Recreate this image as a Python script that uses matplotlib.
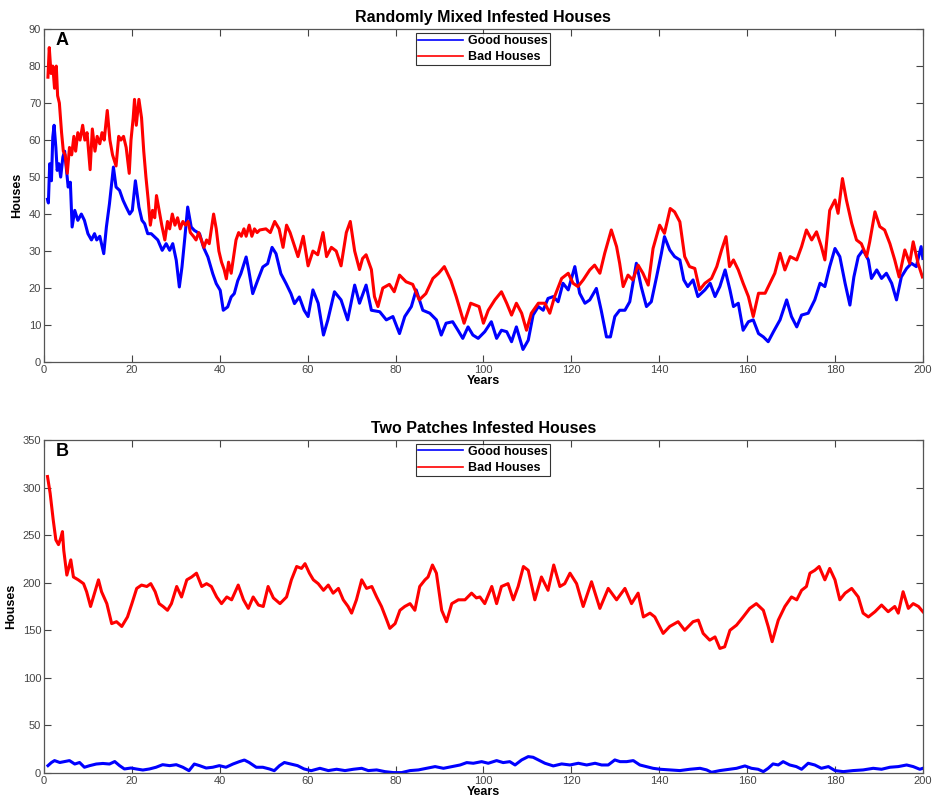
import matplotlib
matplotlib.use("Agg")
import matplotlib.pyplot as plt

plt.rcParams['font.family'] = ['Liberation Sans', 'DejaVu Sans']

# (year, houses) readings for the randomly mixed simulation
a_good = [(0.8, 44), (1.0, 43), (1.3, 53.6), (1.7, 49), (2.0, 60.8), (2.3, 64), (2.7, 58), (3.0, 51.8),
          (3.4, 53.6), (3.8, 50), (4.3, 55.4), (4.7, 57), (5.1, 52), (5.5, 47.3), (6.0, 48.6), (6.4, 36.5),
          (7.0, 41), (7.7, 38.3), (8.5, 40), (9.2, 38.3), (10.0, 34.7), (10.8, 33), (11.5, 34.7), (12.0, 33),
          (12.7, 34), (13.6, 29.3), (14.2, 36.5), (14.9, 42.8), (15.8, 52.7), (16.4, 47.3), (17.2, 46.4),
          (18.0, 43.7), (18.7, 41.9), (19.5, 40), (20.1, 41), (20.8, 49), (21.6, 41.9), (22.3, 38.3),
          (22.9, 37.4), (23.6, 34.7), (24.4, 34.7), (25.2, 33.8), (25.9, 33), (26.9, 30.2), (27.8, 32),
          (28.6, 30.2), (29.3, 32), (30.1, 27.5), (30.8, 20.3), (31.4, 25.7), (32.0, 33), (32.7, 41.9),
          (33.5, 36.5), (34.2, 35.6), (35.4, 34.7), (36.3, 31), (37.3, 28.4), (38.4, 23.9), (39.2, 21.2),
          (40.1, 19.4), (40.8, 14), (41.8, 14.9), (42.6, 17.6), (43.3, 18.5), (44.1, 22), (44.8, 23.9),
          (46.0, 28.4), (46.6, 24.8), (47.5, 18.5), (48.6, 22), (49.8, 25.7), (50.9, 26.6), (51.9, 31),
          (52.8, 29.3), (53.9, 23.9), (55.1, 21.2), (56.2, 18.5), (57.0, 15.8), (58.1, 17.6), (59.2, 14),
          (60.1, 12.3), (61.2, 19.5), (62.4, 15.9), (63.6, 7.3), (64.6, 11.4), (66.1, 19), (67.6, 16.8),
          (69.1, 11.4), (70.7, 20.8), (71.8, 15.9), (73.3, 20.8), (74.5, 14), (76.4, 13.6), (77.9, 11.4),
          (79.4, 12.3), (80.9, 7.7), (82.1, 12.3), (83.6, 15), (84.7, 19.5), (86.2, 14), (87.8, 13.2),
          (89.3, 11.4), (90.4, 7.3), (91.5, 10.5), (93.0, 10.9), (94.2, 8.6), (95.3, 6.4), (96.5, 9.5),
          (97.6, 7.3), (98.8, 6.4), (100.3, 8.2), (101.8, 10.9), (103.0, 6.4), (104.1, 8.6), (105.3, 8.2),
          (106.4, 5.5), (107.5, 9.5), (109.0, 3.4), (110.2, 5.9), (111.3, 12.7), (112.5, 15), (113.6, 14),
          (114.7, 17.2), (115.9, 17.7), (117.0, 16.3), (118.1, 21.3), (119.3, 19.5), (120.8, 25.8),
          (121.9, 18.6), (123.1, 15.9), (124.2, 16.8), (125.7, 19.9), (126.8, 14), (128.0, 6.8), (128.9, 6.8),
          (129.9, 12.3), (131.0, 14), (132.2, 14), (133.3, 16.3), (134.8, 26.7), (135.9, 20.4), (137.1, 15),
          (138.2, 16.3), (139.4, 23), (140.5, 29.4), (141.2, 33.9), (142.4, 30.3), (143.5, 28.5),
          (144.7, 27.6), (145.6, 22.2), (146.5, 20.4), (147.7, 22.2), (148.8, 17.7), (150.4, 19.5),
          (151.6, 21.3), (152.7, 17.7), (153.8, 20.4), (155.0, 24.9), (156.1, 19.5), (156.9, 15), (158.0, 15.9),
          (159.1, 8.6), (160.3, 10.9), (161.4, 11.4), (162.6, 7.7), (163.7, 6.8), (164.8, 5.5), (166.0, 8.2),
          (167.5, 11.4), (169.0, 16.8), (170.1, 12.3), (171.3, 9.5), (172.4, 12.7), (173.9, 13.2),
          (175.4, 16.8), (176.6, 21.3), (177.7, 20.4), (178.8, 25.8), (180.0, 30.7), (181.1, 28.5),
          (182.3, 21.3), (183.4, 15.4), (184.3, 23), (185.3, 28.5), (186.4, 30.3), (187.6, 27.6), (188.3, 22.6),
          (189.5, 24.9), (190.6, 22.6), (191.7, 24), (192.9, 21.3), (194.0, 16.8), (195.1, 23), (196.3, 25.3),
          (197.4, 26.7), (198.5, 25.8), (199.6, 31.2), (200, 28)]

a_bad = [(0.9, 77), (1.2, 85), (1.6, 78), (2.0, 80), (2.4, 74), (2.8, 80), (3.1, 72), (3.5, 70), (4.0, 62),
         (4.4, 57), (4.8, 56), (5.3, 51), (5.8, 58), (6.3, 56), (6.8, 61), (7.2, 57), (7.7, 62), (8.2, 60),
         (8.8, 64), (9.3, 60), (9.8, 62), (10.5, 52), (11.0, 63), (11.6, 57), (12.1, 61), (12.7, 59),
         (13.2, 62), (13.7, 60), (14.4, 68), (15.0, 60), (15.6, 56), (16.4, 53), (17.0, 61), (17.5, 60),
         (18.1, 61), (18.7, 58), (19.4, 51), (19.8, 60), (20.3, 66), (20.6, 71), (21.0, 64), (21.6, 71),
         (22.2, 66), (22.7, 57), (23.2, 50), (23.7, 44), (24.2, 37), (24.7, 41), (25.2, 39), (25.6, 45),
         (26.2, 41), (26.8, 37), (27.5, 33), (28.1, 38), (28.6, 36), (29.2, 40), (29.8, 37), (30.4, 39),
         (31.0, 36), (31.6, 38), (32.2, 37), (32.8, 38), (33.3, 35), (34.0, 34), (34.6, 33), (35.2, 35),
         (35.8, 33), (36.4, 31), (37.0, 33), (37.6, 32), (38.1, 36), (38.6, 40), (39.2, 36), (39.8, 30),
         (40.4, 27), (41.0, 25), (41.5, 22.5), (42.0, 27), (42.6, 24), (43.2, 29), (43.7, 33), (44.3, 35),
         (44.9, 34), (45.5, 36), (46.0, 34), (46.7, 37), (47.3, 34), (47.9, 36), (48.5, 35), (49.1, 35.7),
         (50.5, 36), (51.5, 35), (52.5, 38), (53.5, 36), (54.4, 31), (55.2, 37), (56.0, 35), (56.7, 32.5),
         (57.8, 28.5), (59.0, 34), (60.1, 26), (61.2, 30), (62.3, 29), (63.5, 35), (64.3, 28.5), (65.4, 31),
         (66.5, 30), (67.6, 26), (68.8, 35), (69.7, 38), (70.7, 30), (71.8, 25), (72.5, 28), (73.3, 29),
         (74.5, 25), (75.2, 17.7), (76.0, 15), (77.1, 20), (78.6, 21), (79.7, 19), (80.9, 23.5), (82.4, 21.7),
         (83.9, 21), (85.4, 16.8), (86.9, 18.5), (88.5, 22.6), (89.8, 24), (91.1, 25.8), (92.6, 22),
         (93.8, 17.7), (95.6, 10.5), (97.1, 15.9), (99.0, 15), (100.0, 10.5), (101.1, 14), (102.6, 16.8),
         (104.1, 19), (105.3, 15.9), (106.4, 12.7), (107.5, 15.9), (108.7, 13.2), (109.8, 8.6), (110.9, 13.2),
         (112.5, 15.9), (114.0, 15.9), (115.1, 13.2), (116.2, 17.7), (117.8, 22.6), (119.3, 24), (120.4, 21.3),
         (121.5, 20.4), (122.7, 22.2), (124.2, 24.9), (125.3, 26.2), (126.5, 24), (127.6, 29.4), (129.1, 35.7),
         (130.3, 31.2), (131.0, 26.7), (131.8, 20.4), (132.9, 23.5), (134.0, 22.2), (135.2, 26.2), (136.3, 24),
         (137.5, 20.8), (138.6, 30.7), (140.1, 37), (141.2, 34.8), (142.5, 41.5), (143.5, 40.6), (144.7, 37.9),
         (145.8, 28.5), (146.9, 25.8), (148.1, 25.3), (149.2, 19.5), (150.4, 21.3), (151.9, 22.6),
         (153.1, 25.8), (154.2, 30.3), (155.2, 33.9), (156.0, 25.8), (156.9, 27.6), (158.0, 24.9),
         (159.1, 21.3), (160.3, 17.7), (161.4, 12.3), (162.6, 18.6), (164.1, 18.6), (165.2, 21.3), (166.3, 24),
         (167.5, 29.4), (168.6, 24.9), (169.8, 28.5), (171.3, 27.6), (172.4, 31.2), (173.5, 35.7), (174.7, 33),
         (175.8, 35.2), (176.9, 31.2), (177.7, 27.6), (178.8, 41), (180.0, 43.8), (180.7, 40.2), (181.7, 49.6),
         (182.6, 43.8), (183.8, 37.5), (184.9, 33), (186.0, 32), (187.2, 28.5), (187.9, 32.5), (189.1, 40.6),
         (190.2, 36.6), (191.3, 35.7), (192.5, 32), (193.6, 27.6), (194.6, 23), (195.9, 30.3), (197.0, 26.7),
         (197.8, 32.5), (198.9, 26.7), (199.9, 23)]

# (year, houses) readings for the two-patch simulation
b_good = [(0.9, 7.7), (1.7, 11), (2.4, 13), (3.6, 11), (4.7, 12), (5.8, 13), (7.0, 9.4), (8.1, 11), (9.2, 6),
          (10.4, 7.7), (11.9, 9.4), (13.4, 10), (14.9, 9.4), (16.1, 12), (17.2, 7.7), (18.3, 4.2), (19.8, 5.2),
          (21.0, 4.2), (22.5, 3.1), (24.0, 4.2), (25.5, 6), (27.0, 8.7), (28.6, 7.7), (30.1, 8.7), (31.6, 6),
          (33.0, 2.4), (34.2, 9.4), (35.4, 7.7), (36.9, 5.2), (38.4, 6), (39.9, 7.7), (41.4, 6), (43.0, 9.4),
          (44.5, 12), (45.6, 13.6), (46.7, 11), (48.3, 6), (49.8, 6), (51.3, 4.2), (52.4, 2.4), (53.6, 7.7),
          (54.7, 11), (56.2, 9.4), (57.7, 7.7), (59.2, 4.2), (60.8, 2.4), (62.3, 4.2), (62.8, 4.9), (64.7, 2.5),
          (66.6, 3.9), (68.5, 2.5), (70.4, 3.9), (72.3, 4.9), (73.8, 2.5), (75.7, 3.2), (77.6, 1.4), (79.5, 0.4),
          (81.4, 0.4), (83.3, 2.5), (85.2, 3.2), (87.1, 4.9), (89.0, 6.7), (90.9, 4.9), (92.8, 6.7), (94.7, 8.4),
          (96.2, 10.9), (97.7, 10.2), (99.6, 11.9), (101.1, 10.2), (103.0, 13), (104.5, 10.9), (106.0, 11.9),
          (107.2, 8.4), (108.7, 13.7), (110.2, 17.2), (111.3, 16.5), (112.5, 13.7), (114.0, 10.2), (115.9, 7.4),
          (117.8, 9.5), (119.7, 8.4), (121.6, 10.2), (123.5, 8.4), (125.4, 10.2), (126.9, 8.4), (128.4, 8.4),
          (129.9, 13.7), (131.1, 11.9), (132.6, 11.9), (134.1, 13), (135.6, 8.4), (137.1, 6.7), (138.6, 4.9),
          (140.2, 3.9), (142.4, 3.2), (144.7, 2.5), (147.0, 3.9), (149.3, 4.9), (150.8, 3.2), (151.9, 0.7),
          (153.8, 2.5), (156.1, 3.9), (157.6, 4.9), (159.5, 7.4), (161.0, 4.9), (162.5, 3.9), (163.7, 1.4),
          (164.8, 4.9), (165.9, 9.5), (167.1, 8.4), (168.2, 11.9), (169.7, 8.4), (171.2, 6.7), (172.4, 3.9),
          (173.9, 10.2), (175.4, 8.4), (176.9, 4.9), (178.5, 6.7), (180.0, 2.5), (181.9, 1.4), (184.1, 2.5),
          (186.4, 3.2), (188.7, 4.9), (190.6, 3.9), (192.5, 6), (194.4, 6.7), (196.3, 8.4), (197.8, 6.7),
          (199.3, 3.9), (200.0, 4.9)]

b_bad = [(0.8, 311.6), (1.4, 294), (2.1, 266), (2.7, 245), (3.3, 240), (3.8, 246.7), (4.2, 253.7), (4.5, 234),
         (5.2, 208), (6.1, 224), (6.7, 206), (7.8, 203), (9.0, 199), (9.7, 190.5), (10.6, 175), (11.6, 190.5),
         (12.4, 203), (13.1, 190.5), (14.3, 178), (15.4, 157), (16.5, 159), (17.7, 154), (19.0, 164), (20.0, 178),
         (21.1, 194), (22.2, 197.5), (23.4, 196), (24.3, 199), (25.3, 190.5), (26.2, 178), (27.1, 175),
         (28.1, 171), (29.0, 178), (30.2, 196), (31.3, 185), (32.5, 203), (33.6, 206), (34.7, 210), (35.9, 196),
         (37.0, 199), (38.1, 196), (39.3, 185), (40.4, 178), (41.6, 185), (42.7, 182), (44.2, 197.5),
         (45.4, 182), (46.5, 173), (47.6, 185), (48.8, 176.5), (49.9, 175), (51.0, 196), (52.2, 184),
         (53.7, 178), (55.2, 185), (56.3, 203), (57.5, 217), (58.6, 215), (59.4, 220), (60.4, 210), (61.3, 203),
         (62.4, 199), (63.6, 192), (64.7, 197.5), (65.8, 189), (67.0, 194), (68.1, 182), (69.2, 175), (70.0, 168),
         (71.1, 182), (72.3, 203), (73.4, 194), (74.6, 196), (75.7, 185), (76.8, 175), (78.0, 160.7),
         (78.7, 152), (79.9, 157), (81.0, 171), (82.1, 175), (83.3, 178), (84.4, 171), (85.5, 196), (86.7, 203),
         (87.4, 206), (88.4, 218.6), (89.3, 210), (90.5, 171), (91.6, 159), (92.8, 178), (94.3, 182),
         (95.8, 182), (97.3, 189), (98.4, 184), (99.2, 185), (100.3, 178), (101.9, 196), (103.0, 178),
         (104.1, 196), (105.6, 199), (106.8, 182), (107.9, 196), (109.1, 217), (110.2, 213), (111.7, 182),
         (113.2, 206), (114.7, 192), (116.0, 218.6), (117.4, 196), (118.5, 199), (119.7, 210), (121.2, 199),
         (122.7, 175), (124.6, 201), (126.5, 173), (128.4, 194), (130.3, 182), (132.2, 194), (133.7, 178),
         (135.2, 189), (136.4, 164), (137.9, 168), (139.0, 164), (140.9, 146.7), (142.4, 154), (144.3, 159),
         (145.8, 150), (147.7, 159), (148.9, 160.7), (150.0, 146.7), (151.5, 139.6), (152.7, 143),
         (153.8, 130.9), (154.9, 132.6), (156.1, 150), (157.6, 155.4), (159.1, 164), (160.6, 173), (162.1, 178),
         (163.7, 171), (164.8, 154), (165.7, 138), (167.1, 160.7), (168.6, 175), (170.1, 185), (171.3, 182),
         (172.4, 192), (173.5, 196), (174.3, 210), (175.4, 213), (176.4, 217), (177.7, 203), (178.8, 215),
         (180.0, 203), (181.1, 182), (182.3, 189), (183.8, 194), (185.3, 185), (186.4, 168), (187.6, 164),
         (189.1, 169.5), (190.6, 176.5), (192.1, 169.5), (193.6, 175), (194.4, 168), (195.5, 190.5),
         (196.7, 173), (197.8, 178), (199.0, 175), (200.0, 169.5)]

panels = [
    ("Randomly Mixed Infested Houses", "A", a_good, a_bad, 90, range(0, 91, 10)),
    ("Two Patches Infested Houses", "B", b_good, b_bad, 350, range(0, 351, 50)),
]

fig = plt.figure(figsize=(9.32, 8.01), dpi=100)
fig.patch.set_facecolor("white")
axes = [fig.add_axes([0.0472, 0.548, 0.943, 0.4157]),
        fig.add_axes([0.0472, 0.035, 0.943, 0.4157])]

for ax, (title, letter, good, bad, ymax, yticks) in zip(axes, panels):
    gx, gy = zip(*good)
    bx, by = zip(*bad)
    ax.plot(gx, gy, color=(0, 0, 1), lw=2.2, label="Good houses")
    ax.plot(bx, by, color=(1, 0, 0), lw=2.2, label="Bad Houses")
    ax.set_xlim(0, 200)
    ax.set_ylim(0, ymax)
    ax.set_xticks(range(0, 201, 20))
    ax.set_yticks(list(yticks))
    ax.tick_params(direction="in", top=True, right=True, length=5, width=0.8,
                   labelsize=8, colors="#444444", pad=2)
    for s in ax.spines.values():
        s.set_color("#555555")
        s.set_linewidth(0.9)
    ax.set_title(title, fontsize=11.5, fontweight="bold", pad=5)
    ax.set_xlabel("Years", fontsize=9, fontweight="bold", labelpad=0)
    ax.set_ylabel("Houses", fontsize=9, fontweight="bold", labelpad=4)
    ax.text(0.013, 0.99, letter, transform=ax.transAxes, fontsize=13,
            fontweight="bold", va="top", ha="left")
    leg = ax.legend(loc="upper center", bbox_to_anchor=(0.4995, 0.988), borderaxespad=0,
                    prop={"weight": "bold", "size": 9}, frameon=True, fancybox=False,
                    handlelength=3.6, handletextpad=0.4, borderpad=0.15, labelspacing=0.35)
    leg.get_frame().set_edgecolor("black")
    leg.get_frame().set_linewidth(0.8)
    for line in leg.get_lines():
        line.set_linewidth(1.2)

fig.savefig("out.png", dpi=100)
